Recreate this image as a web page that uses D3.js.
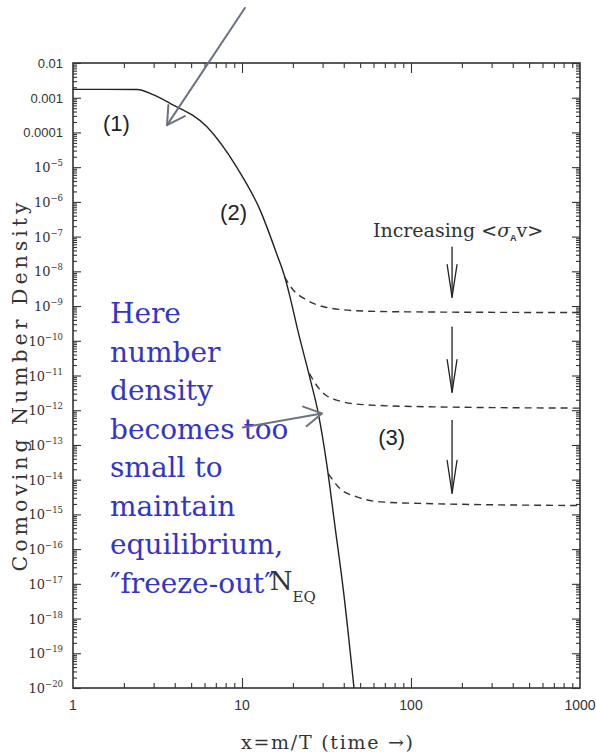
<!DOCTYPE html>
<html>
<head>
<meta charset="utf-8">
<script src="https://cdn.jsdelivr.net/npm/d3@7"></script>
<style>
  body { margin: 0; background: #fff; }
  svg { display: block; }
</style>
</head>
<body>
<svg id="chart" width="596" height="754"></svg>
<script>
// Equilibrium comoving number density N_EQ (solid curve)
const eqX = [1, 2.4, 3.0, 3.75, 6.2, 9.3, 12.8, 16.0, 18.0, 19.2, 21.5, 25.3, 28.3, 31.7, 35.5, 39.8, 46];
const eqY = [1.74e-3, 1.72e-3, 1.2e-3, 6.9e-4, 1.45e-4, 1.0e-5, 5.8e-7, 3.3e-8, 6.3e-9, 1.9e-9, 1.8e-10, 8e-12, 8e-13, 2.9e-14, 4.5e-16, 6.5e-18, 1e-20];

// Relic densities after freeze-out, one per value of <σ_A v> (dashed curves)
const relicLowX  = [17.8, 20.1, 24.1, 31.7, 52, 100, 1000];
const relicLowY  = [7e-9, 2.9e-9, 1.5e-9, 9.1e-10, 7.2e-10, 6.8e-10, 6.5e-10];
const relicMidX  = [25, 29, 36.3, 52, 124, 1000];
const relicMidY  = [1.15e-11, 3.8e-12, 1.95e-12, 1.45e-12, 1.26e-12, 1.15e-12];
const relicHighX = [32.4, 38, 47.7, 65.6, 124, 1000];
const relicHighY = [1.5e-14, 5.5e-15, 3.2e-15, 2.3e-15, 2.05e-15, 1.8e-15];

// Axis ticks
const xTickValues = [1, 10, 100, 1000];
const xTickLabels = ["1", "10", "100", "1000"];
const yTickExponents = d3.range(-2, -21, -1);
const yTickPlain = { "-2": "0.01", "-3": "0.001", "-4": "0.0001" };

// Region labels
const regionLabels = [
  { text: "(1)", x: 1.505, y: 1.1e-4 },
  { text: "(2)", x: 7.42,  y: 3.0e-7 },
  { text: "(3)", x: 63.9,  y: 9.8e-14 }
];

// Arrows showing the trend with increasing <σ_A v>
const trendArrowX = 175;
const trendArrows = [[5.0e-8, 1.8e-9], [2.45e-10, 3.3e-12], [5.1e-13, 4.1e-15]];

const W = 596, H = 754;
const plot = { left: 73, right: 580, top: 63, bottom: 688 };

const x = d3.scaleLog().domain([1, 1000]).range([plot.left, plot.right]);
const y = d3.scaleLog().domain([1e-20, 1e-2]).range([plot.bottom, plot.top]);

const svg = d3.select("#chart");
const axisColor = "#333";

// minor ticks of each log decade
const xMinor = [];
for (let k = 0; k < 3; k++) for (let m = 2; m <= 9; m++) xMinor.push(m * Math.pow(10, k));
const yMinor = [];
for (let k = -20; k < -2; k++) for (let m = 2; m <= 9; m++) yMinor.push(m * Math.pow(10, k));
const yMajor = yTickExponents.map(e => Math.pow(10, e));

function tickAxis(gen, values, size, tx, ty) {
  const g = svg.append("g")
    .attr("transform", `translate(${tx},${ty})`)
    .call(gen.tickValues(values).tickSize(size).tickSizeOuter(0).tickFormat(""));
  g.select(".domain").remove();
  g.selectAll("line").attr("stroke", axisColor).attr("stroke-width", 1.1);
  return g;
}

// inward ticks on all four sides
tickAxis(d3.axisBottom(x), xMinor.filter(v => v !== 10 && v !== 100), -5, 0, plot.bottom);
tickAxis(d3.axisBottom(x), [10, 100], -10, 0, plot.bottom);
tickAxis(d3.axisTop(x), xMinor.filter(v => v !== 10 && v !== 100), -5, 0, plot.top);
tickAxis(d3.axisTop(x), [10, 100], -10, 0, plot.top);
tickAxis(d3.axisLeft(y), yMinor, -4, plot.left, 0);
tickAxis(d3.axisLeft(y), yMajor, -8, plot.left, 0);
tickAxis(d3.axisRight(y), yMinor, -4, plot.right, 0);
tickAxis(d3.axisRight(y), yMajor, -8, plot.right, 0);

// frame
svg.append("rect")
  .attr("x", plot.left).attr("y", plot.top)
  .attr("width", plot.right - plot.left).attr("height", plot.bottom - plot.top)
  .attr("fill", "none").attr("stroke", axisColor).attr("stroke-width", 1.6);

// y tick labels
const yLab = svg.append("g").attr("fill", "#333");
yTickExponents.forEach(e => {
  const t = yLab.append("text")
    .attr("x", plot.left - 10).attr("y", y(Math.pow(10, e)) + 5)
    .attr("text-anchor", "end");
  if (yTickPlain[e] !== undefined) {
    t.attr("font-family", "'Liberation Sans', Arial, sans-serif").attr("font-size", 13)
      .text(yTickPlain[e]);
  } else {
    t.attr("font-family", "'DejaVu Serif', serif").attr("font-size", 13);
    t.append("tspan").text("10");
    t.append("tspan").attr("dy", -6).attr("font-size", 8.5).text("\u2212" + (-e));
  }
});

// x tick labels
svg.append("g")
  .attr("font-family", "'Liberation Sans', Arial, sans-serif")
  .attr("font-size", 14).attr("fill", "#333")
  .selectAll("text").data(xTickValues).join("text")
  .attr("x", d => x(d)).attr("y", plot.bottom + 22)
  .attr("text-anchor", "middle")
  .text((d, i) => xTickLabels[i]);

// axis titles
svg.append("text")
  .attr("transform", `translate(27,387) rotate(-90)`)
  .attr("text-anchor", "middle")
  .attr("font-family", "'DejaVu Serif', serif")
  .attr("font-size", 20.5).attr("fill", "#333")
  .attr("textLength", 369).attr("lengthAdjust", "spacing")
  .text("Comoving Number Density");

svg.append("text")
  .attr("x", 327).attr("y", 749)
  .attr("text-anchor", "middle")
  .attr("font-family", "'DejaVu Serif', serif")
  .attr("font-size", 19).attr("fill", "#333")
  .attr("textLength", 172).attr("lengthAdjust", "spacing")
  .text("x=m/T (time \u2192)");

// curves
const line = d3.line().x(d => x(d[0])).y(d => y(d[1])).curve(d3.curveMonotoneX);
const zip = (xs, ys) => xs.map((v, i) => [v, ys[i]]);

svg.append("path")
  .attr("d", line(zip(eqX, eqY)))
  .attr("fill", "none").attr("stroke", "#222").attr("stroke-width", 1.4);

[[relicLowX, relicLowY], [relicMidX, relicMidY], [relicHighX, relicHighY]].forEach(([xs, ys]) => {
  svg.append("path")
    .attr("d", line(zip(xs, ys)))
    .attr("fill", "none").attr("stroke", "#333").attr("stroke-width", 1.4)
    .attr("stroke-dasharray", "7,5");
});

// region labels
svg.append("g")
  .attr("font-family", "'Liberation Sans', Arial, sans-serif")
  .attr("font-size", 22).attr("fill", "#222")
  .selectAll("text").data(regionLabels).join("text")
  .attr("x", d => x(d.x)).attr("y", d => y(d.y))
  .text(d => d.text);

// open-V arrow from p0 to p1 (pixel coords)
function arrow(p0, p1, headLen, headAngle, color, width) {
  const a = Math.atan2(p1[1] - p0[1], p1[0] - p0[0]);
  const arm = s => [p1[0] - headLen * Math.cos(a + s * headAngle), p1[1] - headLen * Math.sin(a + s * headAngle)];
  const g = svg.append("g").attr("fill", "none").attr("stroke", color)
    .attr("stroke-width", width).attr("stroke-linecap", "round").attr("stroke-linejoin", "round");
  g.append("line").attr("x1", p0[0]).attr("y1", p0[1]).attr("x2", p1[0]).attr("y2", p1[1]);
  g.append("path").attr("d", d3.line()([arm(1), p1, arm(-1)]));
}

// "Increasing <σ_A v>" label and arrows
const inc = svg.append("text")
  .attr("x", x(59.5)).attr("y", y(9.8e-8))
  .attr("font-family", "'DejaVu Serif', serif")
  .attr("font-size", 19).attr("fill", "#333");
inc.append("tspan").text("Increasing  <");
inc.append("tspan").attr("font-style", "italic").text("\u03c3");
inc.append("tspan").attr("dy", 4).attr("font-size", 9)
  .attr("font-family", "'Liberation Sans', sans-serif").attr("font-weight", "bold").text("A");
inc.append("tspan").attr("dy", -4).text("v>");

trendArrows.forEach(([y0, y1]) => {
  arrow([x(trendArrowX), y(y0)], [x(trendArrowX), y(y1)], 33, 0.15, "#222", 1.3);
});

// N_EQ label
const neq = svg.append("text")
  .attr("x", x(14.6)).attr("y", y(6.5e-18))
  .attr("font-family", "'DejaVu Serif', serif").attr("fill", "#333");
neq.append("tspan").attr("font-size", 26).text("N");
neq.append("tspan").attr("font-size", 15).attr("dy", 12).text("EQ");

// blue explanatory text
const blueLines = ["Here", "number", "density", "becomes too", "small to", "maintain", "equilibrium,", "\u2033freeze-out\u2033"];
svg.append("g")
  .attr("font-family", "'DejaVu Serif', serif")
  .attr("font-size", 28).attr("fill", "#3434c8")
  .selectAll("text").data(blueLines).join("text")
  .attr("x", 110).attr("y", (d, i) => 323 + i * 38.5)
  .text(d => d);

// grey pointer arrows
arrow([x(10.4), y(0.385)], [x(3.6), y(1.63e-4)], 20, 0.52, "#6b7280", 2);
arrow([x(10.1), y(3.2e-13)], [x(29.7), y(8.1e-13)], 20, 0.52, "#6b7280", 2);
</script>
</body>
</html>
